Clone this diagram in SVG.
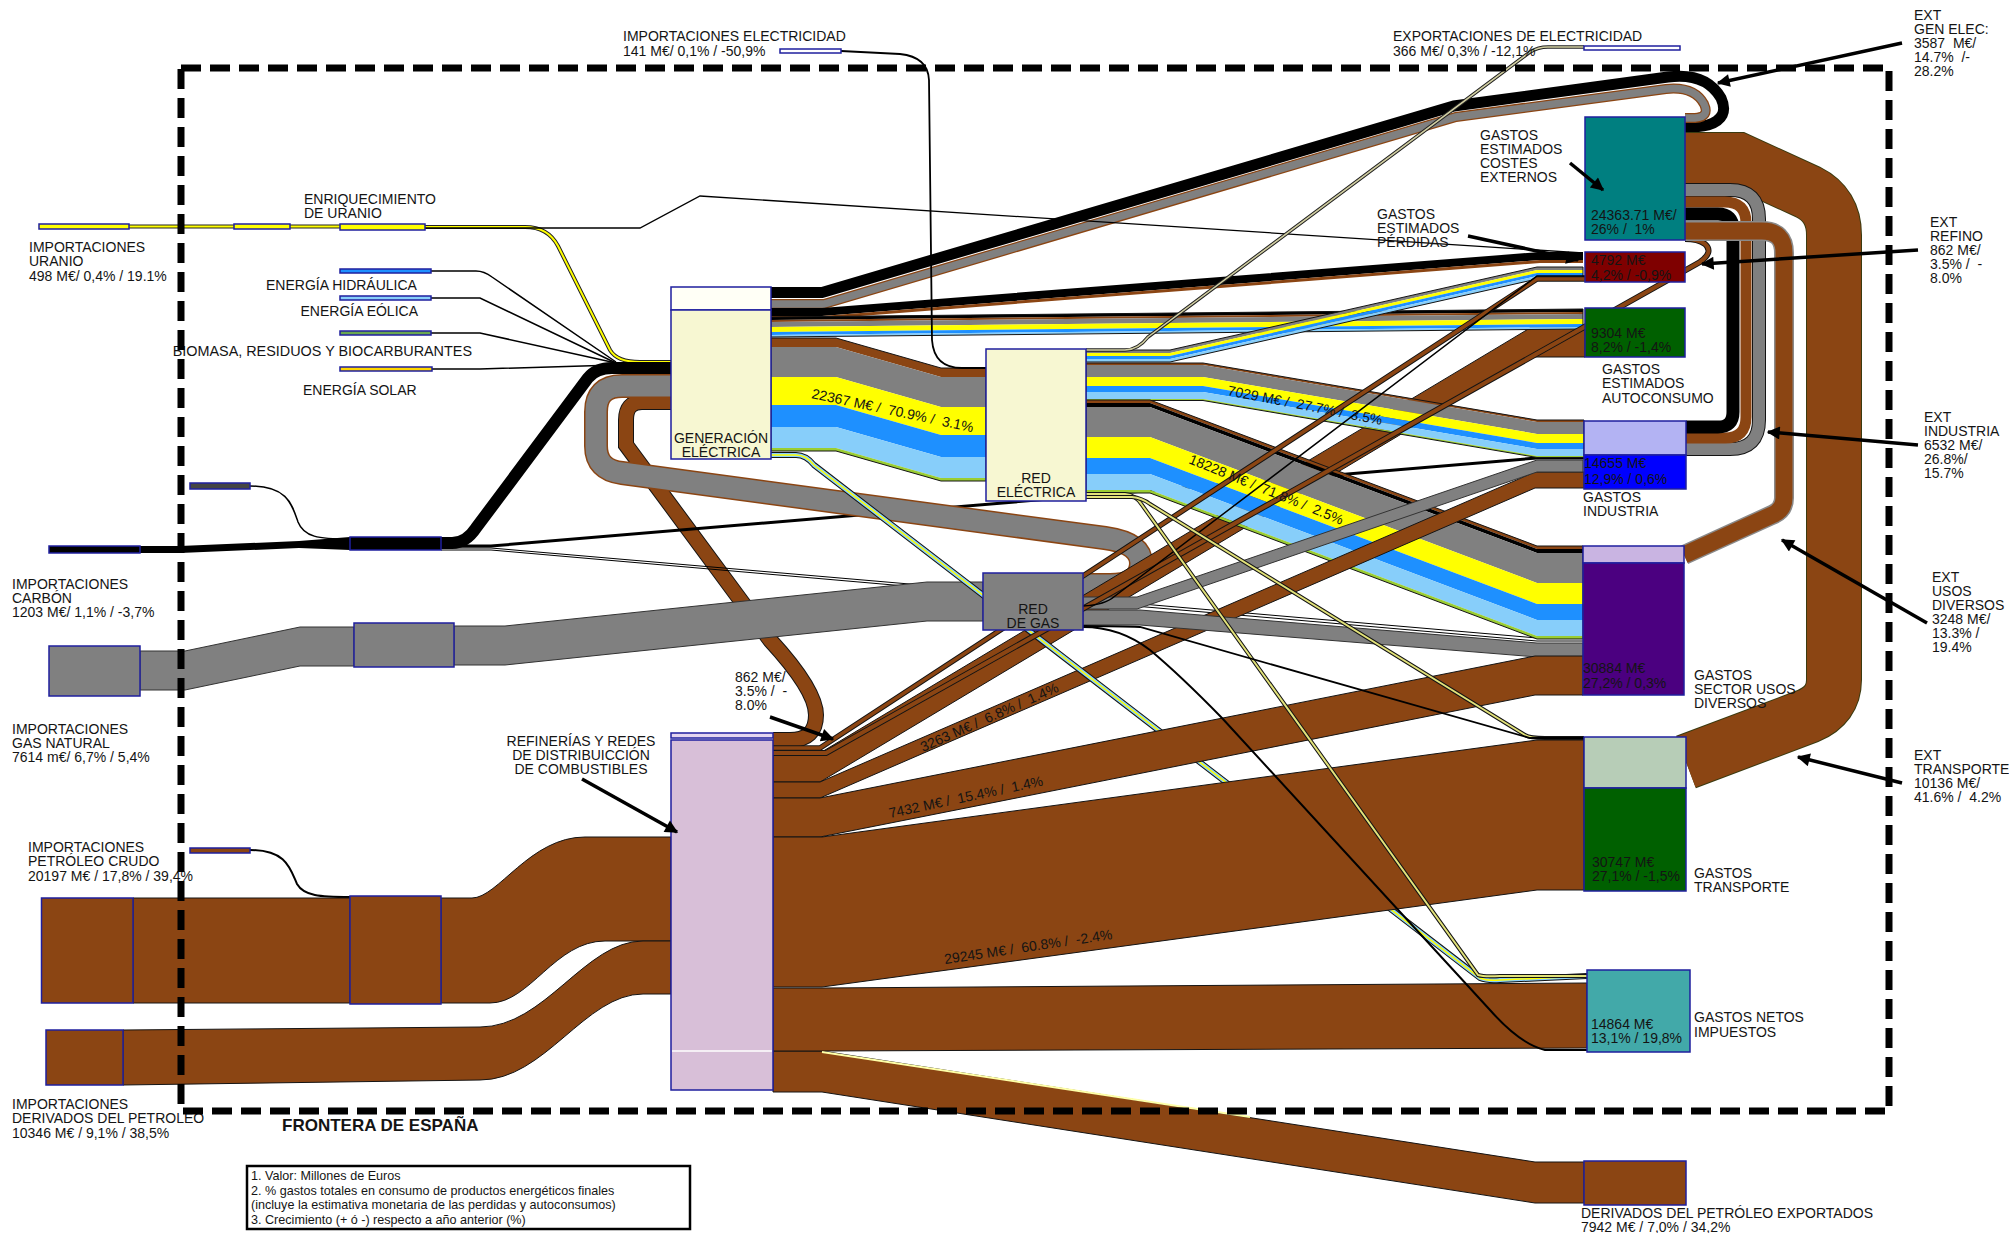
<svg xmlns="http://www.w3.org/2000/svg" width="2009" height="1233" viewBox="0 0 2009 1233">
<defs>
<style>
text{font-family:"Liberation Sans",Arial,Helvetica,sans-serif;font-size:14px;fill:#141414;white-space:pre}
.sm{font-size:12.6px}
.fr{font-weight:bold;font-size:17px}
.m{text-anchor:middle}
.nd{stroke:#1f1f9e;stroke-width:1.5}
.ol{fill:none;stroke:#141414;stroke-width:1}
.br{fill:#8b4513}.gy{fill:#808080}.ye{fill:#ffff00}.bl{fill:#1e90ff}.lb{fill:#87cefa}.gn{fill:#9acd32}.bk{fill:#000}
.bo{fill:#8b4513;stroke:#141414;stroke-width:1}
.go{fill:#808080;stroke:#333;stroke-width:1}
.ln{fill:none;stroke:#000;stroke-width:1.5}
.s{fill:none}
.arr{fill:none;stroke:#000;stroke-width:3.5;marker-end:url(#ah)}
</style>
<marker id="ah" viewBox="0 0 10 10" refX="9" refY="5" markerWidth="17" markerHeight="13" markerUnits="userSpaceOnUse" orient="auto"><path d="M0,0 L10,5 L0,10 z" fill="#000"/></marker>
</defs>
<rect width="2009" height="1233" fill="#fff"/>

<g id="connectors">
<path class="s" d="M129,226.5 H234 M290,226.5 H340" stroke="#222" stroke-width="4"/>
<path class="s" d="M129,226.5 H234 M290,226.5 H340" stroke="#ffff00" stroke-width="2"/>
<path class="s" d="M425,227 H525 Q548,227 558,246 L610,350 Q617,362 640,362 H671" stroke="#222" stroke-width="4"/>
<path class="s" d="M425,227 H525 Q548,227 558,246 L610,350 Q617,362 640,362 H671" stroke="#ffff00" stroke-width="2"/>
<path class="ln" d="M431,271 H476 Q484,271 492,277 L616,362"/>
<path class="ln" d="M431,298 H480 L616,363"/>
<path class="ln" d="M431,333 H480 L616,363"/>
<path class="ln" d="M432,369 H480 L616,365"/>

<path class="s" d="M671,402 H642 Q626,402 626,420 V445 L770,640 Q816,690 816,715 Q816,740 790,740 H773" stroke="#141414" stroke-width="16"/>
<path class="s" d="M671,402 H642 Q626,402 626,420 V445 L770,640 Q816,690 816,715 Q816,740 790,740 H773" stroke="#8b4513" stroke-width="14"/>

<path class="s" d="M441,546 H491 L1537,458 H1584" stroke="#000" stroke-width="3"/>
<path class="s" d="M441,548 H491 L1537,638 H1583" stroke="#000" stroke-width="1"/>
<path class="s" d="M441,550 H491 L1537,641 H1583" stroke="#000" stroke-width="1"/>

<path class="go" d="M140,651 H185 L300,627 H354 V666 H300 L185,690 H140 Z"/>
<path class="go" d="M454,626 H505 L927,582 H983 V621 H927 L505,665 H454 Z"/>
<path class="s" d="M671,386 H622 Q596,386 596,412 V446 Q596,470 622,473 L1105,538 Q1141,543 1141,563 Q1141,585 1110,585 H1083" stroke="#8b4513" stroke-width="24"/>
<path class="s" d="M671,386 H622 Q596,386 596,412 V446 Q596,470 622,473 L1105,538 Q1141,543 1141,563 Q1141,585 1110,585 H1083" stroke="#808080" stroke-width="21"/>

<path class="bk" d="M140,546 H180 L299,541 L350,537 V550 L299,548 L180,553 H140 Z"/>
<path class="s" d="M441,543 H452 Q466,543 476,528 L588,378 Q596,368 612,368 H671" stroke="#000" stroke-width="12"/>
<path class="ln" d="M250,486 C288,486 292,505 298,522 C304,537 318,539 350,539"/>
<path class="s" d="M250,850 C286,850 290,868 297,884 C304,896 320,897 350,897" stroke="#000" stroke-width="2"/>

<path class="bo" d="M133,898 H350 V1003 H133 Z"/>
<path class="bo" d="M441,898 H472 C498,898 530,837 585,837 H671 V941 H605 C555,941 530,1003 490,1003 H441 Z"/>
<path class="bo" d="M123,1030 L480,1027 C545,1027 585,941 643,941 H671 V994 H643 C585,994 545,1080 480,1080 L123,1085 Z"/>

<polygon class="bo" points="773,1051 822,1051 1535,1162 1584,1162 1584,1203 1535,1203 822,1092 773,1092"/>
<polygon class="bo" points="773,988 822,988 1587,983 1587,1048 822,1051 773,1051"/>
<path class="s" d="M822,1052 L1250,1117" stroke="#ffffa8" stroke-width="2"/>
<polygon class="bo" points="773,753 820,753 1530,328 1585,328 1585,357 1530,357 820,782 773,782"/>

<path class="s" d="M771,292.5 H822 L1454,106 L1668,77 Q1706,72 1721,98 Q1730,118 1708,125 Q1700,127 1685,127" stroke="#000" stroke-width="11"/>
<path class="s" d="M771,304 H824 L1456,117 L1666,89 Q1694,86 1704,104 Q1710,117 1695,118 H1685" stroke="#8b4513" stroke-width="10"/>
<path class="s" d="M771,304 H824 L1456,117 L1666,89 Q1694,86 1704,104 Q1710,117 1695,118 H1685" stroke="#808080" stroke-width="7.5"/>

<polygon class="bk" points="771,308 822,308 1540,252 1583,252 1583,260 1540,260 822,316 771,316"/>
<polygon class="br" points="771,316 822,316 1540,260 1583,260 1583,263 1540,263 822,319 771,319"/>

<polygon class="bk" points="771,317 1583,309 1583,312 771,320"/>
<polygon class="br" points="771,320 1583,312 1583,314 771,322"/>
<polygon class="gy" points="771,322 1583,314 1583,319 771,327"/>
<polygon class="ye" points="771,327 1583,319 1583,324 771,332"/>
<polygon class="bl" points="771,332 1583,324 1583,327 771,335"/>
<polygon class="lb" points="771,335 1583,327 1583,329 771,337"/>
<polygon class="ol" points="771,317 1583,309 1583,329 771,337"/>

<polygon class="br" points="771,338 836,338 941,368 986,368 986,377 941,377 836,347 771,347"/>
<polygon class="gy" points="771,347 836,347 941,377 986,377 986,407 941,407 836,377 771,377"/>
<polygon class="ye" points="771,377 836,377 941,407 986,407 986,435 941,435 836,405 771,405"/>
<polygon class="bl" points="771,405 836,405 941,435 986,435 986,457 941,457 836,427 771,427"/>
<polygon class="lb" points="771,427 836,427 941,457 986,457 986,478 941,478 836,448 771,448"/>
<polygon class="gn" points="771,448 836,448 941,478 986,478 986,481 941,481 836,451 771,451"/>
<polygon class="ol" points="771,338 836,338 941,368 986,368 986,481 941,481 836,451 771,451"/>

<polygon class="gy" points="1086,350 1170,350 1537,267 1583,267 1583,270 1537,270 1170,353 1086,353"/>
<polygon class="ye" points="1086,353 1170,353 1537,270 1583,270 1583,273 1537,273 1170,356 1086,356"/>
<polygon class="bl" points="1086,356 1170,356 1537,273 1583,273 1583,276 1537,276 1170,359 1086,359"/>
<polygon class="lb" points="1086,359 1170,359 1537,276 1583,276 1583,279 1537,279 1170,362 1086,362"/>
<polygon class="ol" points="1086,350 1170,350 1537,267 1583,267 1583,279 1537,279 1170,362 1086,362"/>

<polygon class="br" points="1086,363 1203,363 1537,420 1584,420 1584,422 1537,422 1203,365 1086,365"/>
<polygon class="gy" points="1086,365 1203,365 1537,422 1584,422 1584,434 1537,434 1203,377 1086,377"/>
<polygon class="ye" points="1086,377 1203,377 1537,434 1584,434 1584,443 1537,443 1203,386 1086,386"/>
<polygon class="bl" points="1086,386 1203,386 1537,443 1584,443 1584,449 1537,449 1203,392 1086,392"/>
<polygon class="lb" points="1086,392 1203,392 1537,449 1584,449 1584,456 1537,456 1203,399 1086,399"/>
<polygon class="gn" points="1086,399 1203,399 1537,456 1584,456 1584,457.5 1537,457.5 1203,400.5 1086,400.5"/>
<polygon class="ol" points="1086,363 1203,363 1537,420 1584,420 1584,457.5 1537,457.5 1203,400.5 1086,400.5"/>

<polygon class="br" points="1086,400 1150,400 1537,546 1583,546 1583,549 1537,549 1150,403 1086,403"/>
<polygon class="bk" points="1086,403 1150,403 1537,549 1583,549 1583,553 1537,553 1150,407 1086,407"/>
<polygon class="gy" points="1086,407 1150,407 1537,553 1583,553 1583,583 1537,583 1150,437 1086,437"/>
<polygon class="ye" points="1086,437 1150,437 1537,583 1583,583 1583,604 1537,604 1150,458 1086,458"/>
<polygon class="bl" points="1086,458 1150,458 1537,604 1583,604 1583,620 1537,620 1150,474 1086,474"/>
<polygon class="lb" points="1086,474 1150,474 1537,620 1583,620 1583,636 1537,636 1150,490 1086,490"/>
<polygon class="gn" points="1086,490 1150,490 1537,636 1583,636 1583,639 1537,639 1150,493 1086,493"/>
<polygon class="ol" points="1086,400 1150,400 1537,546 1583,546 1583,639 1537,639 1150,493 1086,493"/>

<polygon class="bo" points="773,782 820,782 1535,472 1584,472 1584,488 1535,488 820,798 773,798"/>
<polygon class="go" points="1083,597 1137,597 1537,460 1583,460 1583,472 1537,472 1137,609 1083,609"/>
<polygon class="go" points="1083,610 1140,610 1537,643 1583,643 1583,657 1537,657 1140,625 1083,625"/>

<path class="s" d="M771,455 H796 Q806,455 814,465 L1480,978 Q1487,981 1500,980 L1587,976" stroke="#141414" stroke-width="6"/>
<path class="s" d="M771,455 H796 Q806,455 814,465 L1480,978 Q1487,981 1500,980 L1587,976" stroke="#87cefa" stroke-width="4"/>
<path class="s" d="M771,455 H796 Q806,455 814,465 L1480,978 Q1487,981 1500,980 L1587,976" stroke="#ffff00" stroke-width="1.5"/>

<polygon class="bo" points="773,798 820,798 1535,656 1583,656 1583,695 1535,695 820,837 773,837"/>
<polygon class="bo" points="773,837 822,837 1537,740 1584,740 1584,890 1537,890 822,987 773,987"/>

<path class="s" d="M773,748 H820 L1537,279 H1585" stroke="#141414" stroke-width="5.5"/>
<path class="s" d="M773,748 H820 L1537,279 H1585" stroke="#8b4513" stroke-width="3.5"/>
<path class="s" d="M773,753 H826 L1700,262 Q1714,252 1705,244 Q1698,239 1685,239" stroke="#141414" stroke-width="6"/>
<path class="s" d="M773,753 H826 L1700,262 Q1714,252 1705,244 Q1698,239 1685,239" stroke="#8b4513" stroke-width="4"/>
<path class="s" d="M1083,606 Q1105,605 1115,596 L1537,276 H1585" stroke="#000" stroke-width="1.5"/>

<path class="s" d="M1086,494 H1125 Q1136,495 1142,505 L1478,975 Q1484,977 1500,976 H1587" stroke="#141414" stroke-width="4"/>
<path class="s" d="M1086,494 H1125 Q1136,495 1142,505 L1478,975 Q1484,977 1500,976 H1587" stroke="#e2e27a" stroke-width="2"/>
<path class="s" d="M1086,497 H1132 Q1142,498 1150,504 L1525,735 Q1530,738 1545,738 H1584" stroke="#141414" stroke-width="4"/>
<path class="s" d="M1086,497 H1132 Q1142,498 1150,504 L1525,735 Q1530,738 1545,738 H1584" stroke="#e2e27a" stroke-width="2"/>
<path class="s" d="M1083,627 Q1120,627 1150,650 Q1180,675 1222,718 L1490,1010 Q1520,1044 1545,1050 H1587" stroke="#000" stroke-width="2"/>
<path class="s" d="M1083,626 Q1120,626 1140,627 L1530,738 H1584" stroke="#000" stroke-width="1.8"/>

<path class="s" d="M425,228 H640 L700,196 L1583,253" stroke="#000" stroke-width="1.3"/>
<path class="s" d="M841,51 L900,54 Q928,57 929,80 L932,340 Q934,368 962,368 H986" stroke="#000" stroke-width="1.8"/>
<path class="s" d="M1086,350 H1125 Q1138,350 1148,337 L1530,52 Q1538,47 1548,47 H1584" stroke="#222" stroke-width="3.5"/>
<path class="s" d="M1086,350 H1125 Q1138,350 1148,337 L1530,52 Q1538,47 1548,47 H1584" stroke="#d2cfa2" stroke-width="1.5"/>

<path class="s" d="M1685,160 H1738 L1808,192 Q1834,205 1834,235 V680 Q1834,705 1808,716 L1686,762" stroke="#3a3a10" stroke-width="56"/>
<path class="s" d="M1685,160 H1738 L1808,192 Q1834,205 1834,235 V680 Q1834,705 1808,716 L1686,762" stroke="#8b4513" stroke-width="54"/>
<path class="s" d="M1685,190 H1730 Q1759,190 1759,219 V420 Q1759,449 1730,449 H1686" stroke="#141414" stroke-width="14"/>
<path class="s" d="M1685,190 H1730 Q1759,190 1759,219 V420 Q1759,449 1730,449 H1686" stroke="#808080" stroke-width="12"/>
<path class="s" d="M1685,202 H1725 Q1746,202 1746,223 V417 Q1746,438 1725,438 H1686" stroke="#8b4513" stroke-width="11"/>
<path class="s" d="M1685,214 H1718 Q1733,214 1733,229 V412 Q1733,427 1718,427 H1686" stroke="#000" stroke-width="13"/>
<path class="s" d="M1685,231 H1762 Q1784,231 1784,253 V498 Q1784,510 1772,515 L1684,555" stroke="#8a8a8a" stroke-width="20"/>
<path class="s" d="M1685,231 H1762 Q1784,231 1784,253 V498 Q1784,510 1772,515 L1684,555" stroke="#8b4513" stroke-width="17"/>
</g>

<g id="n-uranio">
<rect class="nd" x="39" y="224" width="90" height="5" fill="#ffff00"/>
<rect class="nd" x="234" y="224" width="56" height="5" fill="#ffff00"/>
<text x="29" y="252">IMPORTACIONES</text><text x="29" y="266">URANIO</text><text x="29" y="281">498 M€/ 0,4% / 19.1%</text>
</g>
<g id="n-enriquecimiento">
<rect class="nd" x="340" y="224" width="85" height="6" fill="#ffff00"/>
<text x="304" y="204">ENRIQUECIMIENTO</text><text x="304" y="218">DE URANIO</text>
</g>
<g id="n-hidraulica"><rect class="nd" x="340" y="269" width="91" height="4" fill="#1e90ff"/><text x="266" y="290">ENERGÍA HIDRÁULICA</text></g>
<g id="n-eolica"><rect class="nd" x="340" y="296" width="91" height="4" fill="#87cefa"/><text x="418" y="316" text-anchor="end">ENERGÍA EÓLICA</text></g>
<g id="n-biomasa"><rect class="nd" x="340" y="331" width="91" height="4" fill="#6aa84f"/><text x="472" y="356" text-anchor="end" style="font-size:14.4px">BIOMASA, RESIDUOS Y BIOCARBURANTES</text></g>
<g id="n-solar"><rect class="nd" x="340" y="367" width="92" height="4" fill="#ffd700"/><text x="303" y="395">ENERGÍA SOLAR</text></g>

<g id="n-carbon">
<rect class="nd" x="190" y="483" width="60" height="6" fill="#444"/>
<rect class="nd" x="49" y="546" width="91" height="7" fill="#000"/>
<rect class="nd" x="350" y="537" width="91" height="13" fill="#000"/>
<text x="12" y="589">IMPORTACIONES</text><text x="12" y="603">CARBÓN</text><text x="12" y="617">1203 M€/ 1,1% / -3,7%</text>
</g>
<g id="n-gas-natural">
<rect class="nd" x="49" y="646" width="91" height="50" fill="#808080"/>
<rect class="nd" x="354" y="623" width="100" height="44" fill="#808080"/>
<text x="12" y="734">IMPORTACIONES</text><text x="12" y="748">GAS NATURAL</text><text x="12" y="762">7614 m€/ 6,7% / 5,4%</text>
</g>
<g id="n-petroleo-crudo">
<rect class="nd" x="190" y="848" width="60" height="5" fill="#8b4513"/>
<rect class="nd" x="41.5" y="898" width="91.5" height="105" fill="#8b4513"/>
<rect class="nd" x="350" y="896" width="91" height="108" fill="#8b4513"/>
<text x="28" y="852">IMPORTACIONES</text><text x="28" y="866">PETRÓLEO CRUDO</text><text x="28" y="881">20197 M€ / 17,8% / 39,4%</text>
</g>
<g id="n-derivados-imp">
<rect class="nd" x="46" y="1030" width="77" height="55" fill="#8b4513"/>
<text x="12" y="1109">IMPORTACIONES</text><text x="12" y="1123">DERIVADOS DEL PETROLEO</text><text x="12" y="1138">10346 M€ / 9,1% / 38,5%</text>
</g>
<g id="n-imp-elec">
<rect class="nd" x="780" y="49" width="61" height="4" fill="#fff"/>
<text x="623" y="41">IMPORTACIONES ELECTRICIDAD</text><text x="623" y="56">141 M€/ 0,1% / -50,9%</text>
</g>
<g id="n-exp-elec">
<rect class="nd" x="1584" y="46" width="96" height="4" fill="#fff"/>
<text x="1393" y="41">EXPORTACIONES DE ELECTRICIDAD</text><text x="1393" y="56">366 M€/ 0,3% / -12,1%</text>
</g>

<g id="n-generacion">
<rect class="nd" x="671" y="287" width="100" height="23" fill="#fffff6"/>
<rect class="nd" x="671" y="310" width="100" height="149" fill="#f7f7d2"/>
<text class="m" x="721" y="443">GENERACIÓN</text><text class="m" x="721" y="457">ELÉCTRICA</text>
</g>
<g id="n-red-electrica">
<rect class="nd" x="986" y="349" width="100" height="152" fill="#f7f7d2"/>
<text class="m" x="1036" y="483">RED</text><text class="m" x="1036" y="497">ELÉCTRICA</text>
</g>
<g id="n-red-gas">
<rect class="nd" x="983" y="573" width="100" height="57" fill="#808080"/>
<text class="m" x="1033" y="614">RED</text><text class="m" x="1033" y="628">DE GAS</text>
</g>
<g id="n-refinerias">
<rect class="nd" x="671" y="733" width="102" height="5" fill="#e4d6f0"/>
<rect class="nd" x="671" y="740" width="102" height="350" fill="#d8bfd8"/>
<line x1="672" y1="1051" x2="772" y2="1051" stroke="#fff" stroke-width="1.5"/>
<text class="m" x="581" y="746">REFINERÍAS Y REDES</text><text class="m" x="581" y="760">DE DISTRIBUICCIÓN</text><text class="m" x="581" y="774">DE COMBUSTIBLES</text>
</g>

<g id="n-costes-externos">
<rect class="nd" x="1585" y="117" width="100" height="123" fill="#007f80"/>
<text x="1591" y="220">24363.71 M€/</text><text x="1591" y="234">26% /  1%</text>
<text x="1480" y="140">GASTOS</text><text x="1480" y="154">ESTIMADOS</text><text x="1480" y="168">COSTES</text><text x="1480" y="182">EXTERNOS</text>
</g>
<g id="n-perdidas">
<rect class="nd" x="1585" y="252" width="100" height="30" fill="#7f0000"/>
<text x="1591" y="265">4792 M€</text><text x="1591" y="280">4,2% / -0,9%</text>
<text x="1377" y="219">GASTOS</text><text x="1377" y="233">ESTIMADOS</text><text x="1377" y="247">PÉRDIDAS</text>
</g>
<g id="n-autoconsumo">
<rect class="nd" x="1585" y="308" width="100" height="49" fill="#006000"/>
<text x="1591" y="338">9304 M€</text><text x="1591" y="352">8,2% / -1,4%</text>
<text x="1602" y="374">GASTOS</text><text x="1602" y="388">ESTIMADOS</text><text x="1602" y="403">AUTOCONSUMO</text>
</g>
<g id="n-industria">
<rect class="nd" x="1584" y="421" width="102" height="34" fill="#b3b3f3"/>
<rect class="nd" x="1584" y="455" width="102" height="34" fill="#0000ff"/>
<text x="1584" y="468">14655 M€</text><text x="1584" y="484">12,9% / 0,6%</text>
<text x="1583" y="502">GASTOS</text><text x="1583" y="516">INDUSTRIA</text>
</g>
<g id="n-usos-diversos">
<rect class="nd" x="1583" y="546" width="101" height="17" fill="#c9b4e2"/>
<rect class="nd" x="1583" y="563" width="101" height="132" fill="#4b0080"/>
<text x="1583" y="673">30884 M€</text><text x="1583" y="688">27,2% / 0,3%</text>
<text x="1694" y="680">GASTOS</text><text x="1694" y="694">SECTOR USOS</text><text x="1694" y="708">DIVERSOS</text>
</g>
<g id="n-transporte">
<rect class="nd" x="1584" y="737" width="102" height="51" fill="#b7cdb7"/>
<rect class="nd" x="1584" y="788" width="102" height="103" fill="#006000"/>
<text x="1592" y="867">30747 M€</text><text x="1592" y="881">27,1% / -1,5%</text>
<text x="1694" y="878">GASTOS</text><text x="1694" y="892">TRANSPORTE</text>
</g>
<g id="n-impuestos">
<rect class="nd" x="1587" y="970" width="103" height="82" fill="#42a9a9"/>
<text x="1591" y="1029">14864 M€</text><text x="1591" y="1043">13,1% / 19,8%</text>
<text x="1694" y="1022">GASTOS NETOS</text><text x="1694" y="1037">IMPUESTOS</text>
</g>
<g id="n-derivados-exp">
<rect class="nd" x="1584" y="1161" width="102" height="44" fill="#8b4513"/>
<text x="1581" y="1218">DERIVADOS DEL PETRÓLEO EXPORTADOS</text><text x="1581" y="1232">7942 M€ / 7,0% / 34,2%</text>
</g>

<g id="labels">
<text transform="translate(811,398) rotate(12)">22367 M€ /  70.9% /  3.1%</text>
<text transform="translate(1227,395) rotate(11)">7029 M€ /  27.7% /  3.5%</text>
<text transform="translate(1188,463) rotate(22)">18228 M€ /  71.8% /  2.5%</text>
<text transform="translate(923,752) rotate(-24)">3263 M€ /  6.8% /  1.4%</text>
<text transform="translate(890,818) rotate(-12)">7432 M€ /  15.4% /  1.4%</text>
<text transform="translate(945,964) rotate(-8.5)">29245 M€ /  60.8% /  -2.4%</text>
<text x="735" y="682">862 M€/</text><text x="735" y="696">3.5% /  -</text><text x="735" y="710">8.0%</text>
<text x="1914" y="20">EXT</text><text x="1914" y="34">GEN ELEC:</text><text x="1914" y="48">3587  M€/</text><text x="1914" y="62">14.7%  /-</text><text x="1914" y="76">28.2%</text>
<text x="1930" y="227">EXT</text><text x="1930" y="241">REFINO</text><text x="1930" y="255">862 M€/</text><text x="1930" y="269">3.5% /  -</text><text x="1930" y="283">8.0%</text>
<text x="1924" y="422">EXT</text><text x="1924" y="436">INDUSTRIA</text><text x="1924" y="450">6532 M€/</text><text x="1924" y="464">26.8%/</text><text x="1924" y="478">15.7%</text>
<text x="1932" y="582">EXT</text><text x="1932" y="596">USOS</text><text x="1932" y="610">DIVERSOS</text><text x="1932" y="624">3248 M€/</text><text x="1932" y="638">13.3% /</text><text x="1932" y="652">19.4%</text>
<text x="1914" y="760">EXT</text><text x="1914" y="774">TRANSPORTE</text><text x="1914" y="788">10136 M€/</text><text x="1914" y="802">41.6% /  4.2%</text>
<path class="arr" d="M1902,43 L1718,83"/>
<path class="arr" d="M1570,163 L1603,190"/>
<path class="arr" d="M1468,236 L1578,260"/>
<path class="arr" d="M1918,250 L1702,264"/>
<path class="arr" d="M1918,445 L1768,432"/>
<path class="arr" d="M1927,623 L1782,540"/>
<path class="arr" d="M1902,783 L1798,757"/>
<path class="arr" d="M582,779 L677,832"/>
<path class="arr" d="M770,717 L833,739"/>
</g>

<g id="leyenda">
<rect x="247" y="1166" width="443" height="63" fill="#fff" stroke="#000" stroke-width="2.5"/>
<text class="sm" x="251" y="1180">1. Valor: Millones de Euros</text>
<text class="sm" x="251" y="1195">2. % gastos totales en consumo de productos energéticos finales</text>
<text class="sm" x="251" y="1209">(incluye la estimativa monetaria de las perdidas y autoconsumos)</text>
<text class="sm" x="251" y="1224">3. Crecimiento (+ ó -) respecto a año anterior (%)</text>
</g>

<g id="frontera">
<rect x="181" y="68" width="1708" height="1043" fill="none" stroke="#000" stroke-width="7" stroke-dasharray="20 9"/>
<text class="fr" x="282" y="1131">FRONTERA DE ESPAÑA</text>
</g>
</svg>
